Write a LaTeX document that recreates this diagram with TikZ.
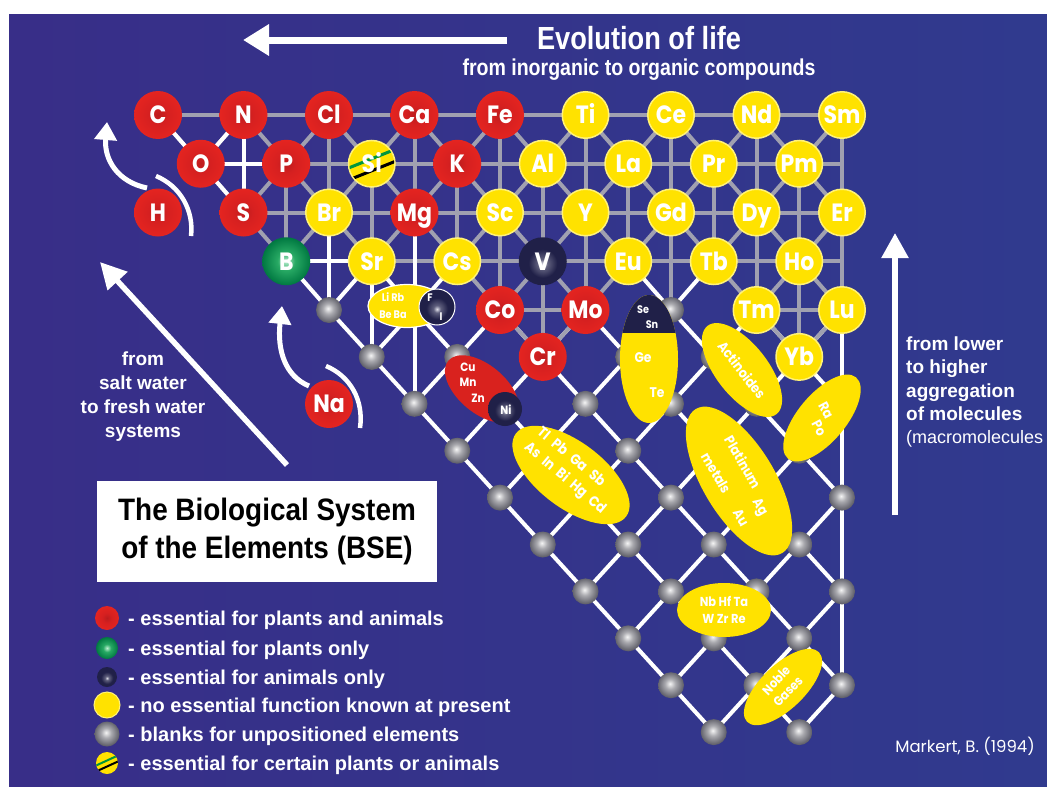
\documentclass[tikz,border=0pt]{standalone}
\usepackage{fontspec}
\setmainfont{Liberation Sans}
\newfontfamily\elfont{Poppins}[FakeStretch=0.88]
\newfontfamily\reffont{Poppins}
\newfontfamily\condfont{Liberation Sans}[FakeStretch=0.85]
\newfontfamily\boxfont{Liberation Sans}[FakeStretch=0.9]
\usetikzlibrary{arrows.meta,shapes.geometric}

\definecolor{bgL}{RGB}{56,46,136}
\definecolor{bgR}{RGB}{48,58,142}
\definecolor{elred}{RGB}{228,36,32}
\definecolor{elredm}{RGB}{214,32,32}
\definecolor{elredc}{RGB}{188,28,30}
\definecolor{elyel}{RGB}{255,226,0}
\definecolor{elyelrim}{RGB}{255,242,120}
\definecolor{gline}{RGB}{160,160,176}
\definecolor{dkhi}{RGB}{225,225,235}
\definecolor{dkmid}{RGB}{95,95,125}
\definecolor{dkout}{RGB}{32,32,72}
\definecolor{grhi}{RGB}{190,240,210}
\definecolor{grmid}{RGB}{40,170,100}
\definecolor{grout}{RGB}{0,120,65}
\definecolor{gyhi}{RGB}{245,245,245}
\definecolor{gymid}{RGB}{170,170,175}
\definecolor{gyout}{RGB}{95,95,105}
\definecolor{sigreen}{RGB}{0,150,60}

\pgfdeclareradialshading{redball}{\pgfpoint{0bp}{0bp}}{color(0bp)=(elredc); color(10bp)=(elredm); color(25bp)=(elred); color(50bp)=(elred)}
\pgfdeclareradialshading{darkball}{\pgfpoint{0bp}{-3bp}}{color(0bp)=(dkhi); color(5bp)=(dkmid); color(15bp)=(dkout); color(25bp)=(dkout); color(50bp)=(dkout)}
\pgfdeclareradialshading{greenball}{\pgfpoint{0bp}{0bp}}{color(0bp)=(grhi); color(9bp)=(grmid); color(25bp)=(grout); color(50bp)=(grout)}
\pgfdeclareradialshading{grayball}{\pgfpoint{-2bp}{3bp}}{color(0bp)=(gyhi); color(10bp)=(gymid); color(25bp)=(gyout); color(50bp)=(gyout)}

\begin{document}
\begin{tikzpicture}[x=1pt,y=-1pt,
  elbase/.style={circle,minimum size=48pt,inner sep=0pt,text=white,font=\elfont\bfseries\fontsize{25}{25}\selectfont,text height=17.5pt,text depth=0pt},
  redel/.style={elbase,shading=redball},
  yelel/.style={elbase,fill=elyel,draw=elyelrim,line width=1.5pt,minimum size=46.5pt},
  darkel/.style={elbase,shading=darkball},
  greenel/.style={elbase,shading=greenball},
  blank/.style={circle,minimum size=26pt,inner sep=0pt,shading=grayball},
  gedge/.style={draw=gline,line width=4pt},
  wedge/.style={draw=white,line width=4pt},
  ovtxt/.style={text=white,inner sep=0pt,font=\elfont\bfseries\fontsize{14}{16}\selectfont},
  tinytxt/.style={text=white,inner sep=0pt,font=\elfont\bfseries\fontsize{11}{12}\selectfont},
  warrow/.style={draw=white,line width=5pt,-{Triangle[length=18pt,width=22pt]}},
  legtext/.style={anchor=base west,text=white,font=\bfseries\fontsize{20}{20}\selectfont,inner sep=0pt},
  sidetext/.style={text=white,inner sep=0pt,font=\bfseries\fontsize{19}{19}\selectfont}
]
\useasboundingbox (0,0) rectangle (1047,787);
\fill[white] (0,0) rectangle (1047,787);
\shade[left color=bgL, right color=bgR] (9,14) rectangle (1047,787);

% lattice coordinates
\foreach \i in {0,...,16}{
  \foreach \j in {0,...,13}{
    \pgfmathsetmacro\xx{158+42.75*\i}
    \pgfmathsetmacro\yy{\j<5 ? 115+48.75*\j : 310+46.9*(\j-4)}
    \coordinate (p-\i-\j) at (\xx,\yy);
  }
}

% grey grid: horizontals and verticals
\foreach \a/\b in {p-0-0/p-16-0, p-3-1/p-16-1, p-2-2/p-16-2, p-5-3/p-16-3, p-8-4/p-10-4, p-14-4/p-16-4}
  \draw[gedge] (\a) -- (\b);
\foreach \a/\b in {p-3-1/p-3-3, p-4-0/p-4-2, p-5-1/p-5-3, p-6-0/p-6-2, p-7-1/p-7-3, p-8-0/p-8-4, p-9-1/p-9-5, p-10-0/p-10-4, p-11-1/p-11-3, p-12-0/p-12-4, p-13-1/p-13-3, p-14-0/p-14-4, p-15-1/p-15-5, p-16-0/p-16-4}
  \draw[gedge] (\a) -- (\b);
% grey diagonals, rows 0-3
\foreach \j in {0,1,2}{
  \pgfmathtruncatemacro\jn{\j+1}
  \pgfmathtruncatemacro\hin{\jn==2 ? 16 : 15}
  \foreach \i in {\j,...,16}{
    \pgfmathtruncatemacro\pty{mod(\i+\j,2)}
    \ifnum\pty=0
      \pgfmathtruncatemacro\ip{\i+1}
      \pgfmathtruncatemacro\im{\i-1}
      \ifnum\ip>\hin\else \draw[gedge] (p-\i-\j) -- (p-\ip-\jn);\fi
      \ifnum\im<\jn\else \draw[gedge] (p-\i-\j) -- (p-\im-\jn);\fi
    \fi
  }
}
% white links
\foreach \a/\b in {p-0-0/p-1-1, p-2-0/p-1-1, p-1-1/p-2-2, p-1-1/p-3-1, p-2-0/p-2-2, p-3-3/p-5-3, p-4-2/p-4-4, p-3-3/p-4-4, p-5-3/p-4-4, p-5-3/p-6-4, p-7-3/p-6-4, p-5-3/p-5-5, p-6-2/p-6-6, p-11-3/p-12-4, p-13-3/p-12-4, p-16-4/p-16-12}
  \draw[wedge] (\a) -- (\b);
% white lower lattice
\foreach \j in {4,...,12}{
  \pgfmathtruncatemacro\jn{\j+1}
  \foreach \i in {\j,...,16}{
    \pgfmathtruncatemacro\pty{mod(\i+\j,2)}
    \ifnum\pty=0
      \pgfmathtruncatemacro\ip{\i+1}
      \pgfmathtruncatemacro\im{\i-1}
      \ifnum\ip<17 \draw[wedge] (p-\i-\j) -- (p-\ip-\jn);\fi
      \ifnum\im>\j \draw[wedge] (p-\i-\j) -- (p-\im-\jn);\fi
    \fi
  }
}
% grey links between elements in rows 3-5
\foreach \a/\b in {p-7-3/p-8-4, p-9-3/p-8-4, p-9-3/p-10-4, p-11-3/p-10-4, p-13-3/p-14-4, p-15-3/p-14-4, p-15-3/p-16-4, p-8-4/p-9-5, p-10-4/p-9-5, p-14-4/p-15-5, p-16-4/p-15-5}
  \draw[gedge] (\a) -- (\b);

% blanks
\foreach \j in {4,...,13}{
  \foreach \i in {\j,...,16}{
    \pgfmathtruncatemacro\pty{mod(\i+\j,2)}
    \ifnum\pty=0 \node[blank] (g-\i-\j) at (p-\i-\j) {};\fi
  }
}

% elements
\foreach \n/\c in {C/p-0-0, N/p-2-0, Cl/p-4-0, Ca/p-6-0, Fe/p-8-0, O/p-1-1, P/p-3-1, K/p-7-1, S/p-2-2, Mg/p-6-2, Co/p-8-4, Mo/p-10-4, Cr/p-9-5, H/p-0-2}
  \node[redel] (\n) at (\c) {\n};
\node[redel] (Na) at (329,404) {Na};
\foreach \n/\c in {Ti/p-10-0, Ce/p-12-0, Nd/p-14-0, Sm/p-16-0, Al/p-9-1, La/p-11-1, Pr/p-13-1, Pm/p-15-1, Br/p-4-2, Sc/p-8-2, Y/p-10-2, Gd/p-12-2, Dy/p-14-2, Er/p-16-2, Sr/p-5-3, Cs/p-7-3, Eu/p-11-3, Tb/p-13-3, Ho/p-15-3, Tm/p-14-4, Lu/p-16-4, Yb/p-15-5}
  \node[yelel] (\n) at (\c) {\n};
\node[greenel] (B) at (p-3-3) {B};
\node[darkel] (V) at (p-9-3) {V};
% Si
\node[yelel] (Si) at (p-5-1) {};
\begin{scope}
  \clip (Si.center) circle (22.5pt);
  \draw[sigreen, line width=3pt, shift={(Si.center)}] (-25,5) -- (25,-15);
  \draw[black, line width=3pt, shift={(Si.center)}] (-25,17) -- (25,-3);
\end{scope}
\node[elbase] (Sitxt) at (Si) {Si};

% groups
\node[ellipse, fill=elyel, draw=white, line width=1.2pt, minimum width=78pt, minimum height=43pt, inner sep=0pt] (LiRb) at (407,306) {};
\node[circle, shading=darkball, minimum size=36pt, inner sep=0pt] (FI) at (437,307) {};
\draw[white, line width=1pt] (FI) circle (18pt);
\node[tinytxt, align=center, font=\elfont\bfseries\fontsize{11}{17}\selectfont] (tLi) at (393,306) {Li Rb\\Be Ba};
\node[tinytxt] (tF) at (430,298) {F};
\node[tinytxt] (tI) at (441,317) {I};

\node[ellipse, fill=elred!95!black, minimum width=88pt, minimum height=48pt, inner sep=0pt, rotate=-40] (CuMn) at (482,389) {};
\node[circle, shading=darkball, minimum size=34pt, inner sep=0pt] (Ni) at (505,409) {};
\node[tinytxt, font=\elfont\bfseries\fontsize{12}{12}\selectfont] (tCu) at (468,367) {Cu};
\node[tinytxt, font=\elfont\bfseries\fontsize{12}{12}\selectfont] (tMn) at (468,382) {Mn};
\node[tinytxt, font=\elfont\bfseries\fontsize{12}{12}\selectfont] (tZn) at (478,398) {Zn};
\node[tinytxt, font=\elfont\bfseries\fontsize{12}{12}\selectfont] (tNi) at (506,410) {Ni};

\begin{scope}
  \clip (649,359) ellipse [x radius=29pt, y radius=64pt];
  \fill[elyel] (610,290) rectangle (690,430);
  \fill[dkout] (610,290) rectangle (690,333);
\end{scope}
\node[tinytxt] (tSe) at (643,310) {Se};
\node[tinytxt] (tSn) at (652,325) {Sn};
\node[ovtxt] (tGe) at (643,358) {Ge};
\node[ovtxt] (tTe) at (657,393) {Te};

\node[ellipse, fill=elyel, minimum width=112pt, minimum height=52pt, inner sep=0pt, rotate=-52] (Act) at (742,370) {};
\node[ovtxt, rotate=-52] (tAct) at (Act) {Actinoides};

\node[ellipse, fill=elyel, minimum width=106pt, minimum height=48pt, inner sep=0pt, rotate=50] (RaPo) at (822,418) {};
\node[ovtxt, rotate=-62] (tRa) at (826,410) {Ra};
\node[ovtxt, rotate=-62] (tPo) at (819,428) {Po};

\node[ellipse, fill=elyel, minimum width=138pt, minimum height=66pt, inner sep=0pt, rotate=-37] (TlPb) at (571,475) {};
\node[ovtxt, rotate=-40, align=left, font=\elfont\bfseries\fontsize{14.5}{20}\selectfont] (tTl) at (571,471) {Tl\hspace{7pt}Pb\hspace{7pt}Ga\hspace{7pt}Sb\\As\hspace{6pt}In\hspace{6pt}Bi\hspace{6pt}Hg\hspace{6pt}Cd};

\node[ellipse, fill=elyel, minimum width=168pt, minimum height=72pt, inner sep=0pt, rotate=-59] (Pt) at (739,481) {};
\node[ovtxt, rotate=-60] (tPt) at (743,462) {Platinum};
\node[ovtxt, rotate=-60] (tMet) at (716,473) {metals};
\node[ovtxt, rotate=-60] (tAg) at (759,508) {Ag};
\node[ovtxt, rotate=-60] (tAu) at (741,518) {Au};

\node[ellipse, fill=elyel, minimum width=94pt, minimum height=54pt, inner sep=0pt] (Nb) at (724,610) {};
\node[ovtxt, align=center, font=\elfont\bfseries\fontsize{13}{17}\selectfont] (tNb) at (724,610) {Nb Hf Ta\\W Zr Re};

\node[ellipse, fill=elyel, minimum width=100pt, minimum height=44pt, inner sep=0pt, rotate=44] (Noble) at (783,687) {};
\node[ovtxt, rotate=47, align=center, font=\elfont\bfseries\fontsize{13}{16}\selectfont] (tNo) at (782,686) {Noble\\Gases};

% arrows
\draw[white, line width=7pt, -{Triangle[length=26pt,width=30pt]}] (507,40) -- (243,40);
\draw[white, line width=5.5pt, -{Triangle[length=25pt,width=26pt]}] (895,515) -- (895,233);
\draw[white, line width=5.5pt, -{Triangle[length=26pt,width=26pt]}] (287,465) -- (100,262);
\draw[warrow] (147,188) .. controls (118,182) and (104,160) .. (107,122);
\draw[white, line width=4.5pt] (156,176) .. controls (180,186) and (194,210) .. (191,236);
\draw[warrow] (309,386) .. controls (285,376) and (277,350) .. (282,306);
\draw[white, line width=4.5pt] (326,366) .. controls (350,376) and (364,400) .. (360,428);

% titles
\node[text=white, font=\condfont\bfseries\fontsize{32}{32}\selectfont] (title) at (639,38) {Evolution of life};
\node[text=white, font=\condfont\bfseries\fontsize{23}{23}\selectfont] (subtitle) at (639,70) {from inorganic to organic compounds};

% side texts
\node[sidetext, anchor=base] (s1) at (143,365) {from};
\node[sidetext, anchor=base] (s2) at (143,389) {salt water};
\node[sidetext, anchor=base] (s3) at (143,413) {to fresh water};
\node[sidetext, anchor=base] (s4) at (143,437) {systems};
\node[sidetext, anchor=base west] (r1) at (906,350) {from lower};
\node[sidetext, anchor=base west] (r2) at (906,373) {to higher};
\node[sidetext, anchor=base west] (r3) at (906,397) {aggregation};
\node[sidetext, anchor=base west] (r4) at (906,420) {of molecules};
\node[sidetext, anchor=base west, font=\fontsize{18}{18}\selectfont] (r5) at (906,443) {(macromolecules};

% box
\node[fill=white, minimum width=340pt, minimum height=101pt, inner sep=0pt, align=center, text=black, font=\boxfont\bfseries\fontsize{31}{38}\selectfont] (bse) at (267,531.5) {The Biological System\\of the Elements (BSE)};

% legend
\node[circle, minimum size=24pt, inner sep=0pt, shading=redball] (leg1) at (107,618) {};
\node[circle, minimum size=22pt, inner sep=0pt, shading=greenball] (leg2) at (107,648) {};
\node[circle, minimum size=20pt, inner sep=0pt, shading=darkball] (leg3) at (107,677) {};
\node[circle, minimum size=26pt, inner sep=0pt, fill=elyel, draw=elyelrim, line width=1pt] (leg4) at (107,705) {};
\node[circle, minimum size=25pt, inner sep=0pt, shading=grayball] (leg5) at (107,734) {};
\node[circle, minimum size=22pt, inner sep=0pt, fill=elyel] (leg6) at (107,763) {};
\begin{scope}
  \clip (leg6.center) circle (11pt);
  \draw[sigreen, line width=2pt, shift={(leg6.center)}] (-12,3) -- (12,-8);
  \draw[black, line width=2pt, shift={(leg6.center)}] (-12,9) -- (12,-2);
\end{scope}
\node[legtext] (lt1) at (128,625) {- essential for plants and animals};
\node[legtext] (lt2) at (128,655) {- essential for plants only};
\node[legtext] (lt3) at (128,684) {- essential for animals only};
\node[legtext] (lt4) at (128,712) {- no essential function known at present};
\node[legtext] (lt5) at (128,741) {- blanks for unpositioned elements};
\node[legtext] (lt6) at (128,770) {- essential for certain plants or animals};

\node[anchor=east, text=white, inner sep=0pt, font=\reffont\fontsize{16.5}{16.5}\selectfont] (ref) at (1035,746) {Markert, B. (1994)};
\end{tikzpicture}
\end{document}
